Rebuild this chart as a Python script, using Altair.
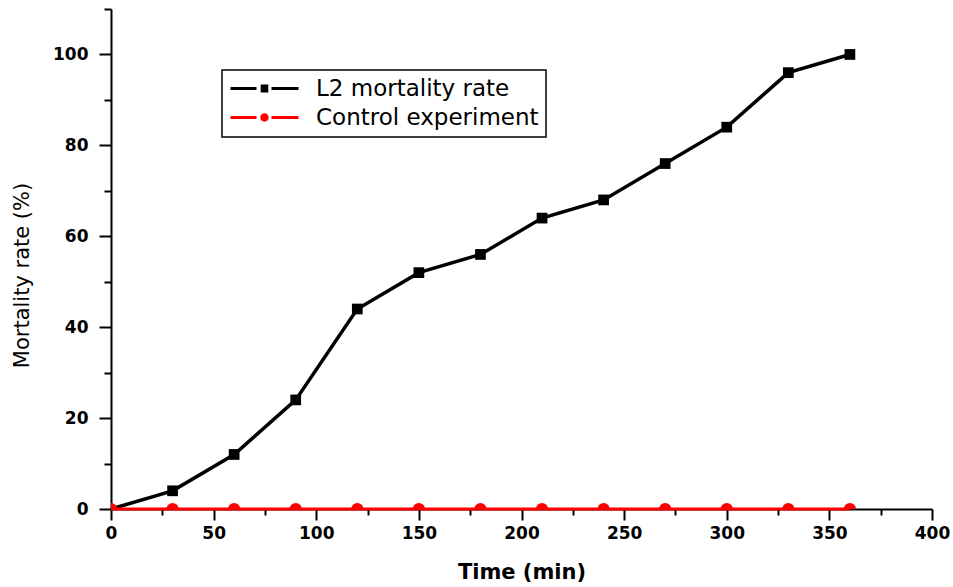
import altair as alt
import pandas as pd

times = [0, 30, 60, 90, 120, 150, 180, 210, 240, 270, 300, 330, 360]
l2_rate = [0, 4, 12, 24, 44, 52, 56, 64, 68, 76, 84, 96, 100]
control_rate = [0, 0, 0, 0, 0, 0, 0, 0, 0, 0, 0, 0, 0]
series_names = ["L2 mortality rate", "Control experiment"]
series_colors = ["#000000", "#ff0000"]
x_major = [0, 50, 100, 150, 200, 250, 300, 350, 400]
x_minor = [25, 75, 125, 175, 225, 275, 325, 375]
y_major = [0, 20, 40, 60, 80, 100]
y_minor = [10, 30, 50, 70, 90, 110]

rows = []
for t, v in zip(times, l2_rate):
    rows.append({"time": t, "rate": v, "series": series_names[0]})
for t, v in zip(times, control_rate):
    rows.append({"time": t, "rate": v, "series": series_names[1]})
df = pd.DataFrame(rows)

FONT = "DejaVu Sans"
xscale = alt.Scale(domain=[0, 400], nice=False, zero=False)
yscale = alt.Scale(domain=[0, 110], nice=False, zero=False)

x_axis = alt.Axis(values=x_major, tickSize=11, tickWidth=2, tickColor="black",
                  domainColor="black", domainWidth=2, grid=False,
                  labelFont=FONT, labelFontWeight="bold", labelFontSize=17,
                  labelColor="black", labelPadding=5, labelFlush=False,
                  title="Time (min)", titleFont=FONT, titleFontWeight="bold",
                  titleFontSize=21, titleColor="black", titleY=63,
                  titleBaseline="middle")
y_axis = alt.Axis(values=y_major, tickSize=12, tickWidth=2, tickColor="black",
                  domainColor="black", domainWidth=2, grid=False,
                  labelFont=FONT, labelFontWeight="bold", labelFontSize=17,
                  labelColor="black", labelPadding=11, labelFlush=False,
                  title="Mortality rate (%)", titleFont=FONT,
                  titleFontWeight="normal", titleFontSize=21, titleColor="black",
                  titleX=-89, titleY=266, titleAngle=-90, titleAlign="center",
                  titleBaseline="middle")
x_minor_axis = alt.Axis(values=x_minor, tickSize=6, tickWidth=2, tickColor="black",
                        domain=False, labels=False, grid=False, title=None,
                        orient="bottom")
y_minor_axis = alt.Axis(values=y_minor, tickSize=7, tickWidth=2, tickColor="black",
                        domain=False, labels=False, grid=False, title=None,
                        orient="left")

base = alt.Chart(df)
l2 = alt.datum.series == series_names[0]
ctrl = alt.datum.series == series_names[1]

black_line = base.transform_filter(l2).mark_line(
    color="black", strokeWidth=3.5).encode(
    x=alt.X("time:Q", scale=xscale, axis=x_axis),
    y=alt.Y("rate:Q", scale=yscale, axis=y_axis),
)
black_pts = base.transform_filter(l2).transform_filter(alt.datum.time > 0).mark_point(
    shape="square", filled=True, color="black", size=115, opacity=1, clip=True).encode(
    x=alt.X("time:Q", scale=xscale, axis=None),
    y=alt.Y("rate:Q", scale=yscale, axis=None),
)
red_line = base.transform_filter(ctrl).mark_line(
    color="#ff0000", strokeWidth=3).encode(
    x=alt.X("time:Q", scale=xscale, axis=None),
    y=alt.Y("rate:Q", scale=yscale, axis=None),
)
red_pts = base.transform_filter(ctrl).mark_point(
    shape="circle", filled=True, color="#ff0000", size=150, opacity=1, clip=True).encode(
    x=alt.X("time:Q", scale=xscale, axis=None),
    y=alt.Y("rate:Q", scale=yscale, axis=None),
)

# legend symbols: dash - marker - dash (unit = 10 px, symbol column 20 px)
sq_path = ("M-1,-0.15H1.6V0.15H-1Z "
           "M2.02,-0.4H2.78V0.4H2.02Z "
           "M3.1,-0.15H5.8V0.15H3.1Z")
ci_path = ("M-1,-0.15H1.6V0.15H-1Z "
           "M2.82,0A0.42,0.42 0 1,1 1.98,0A0.42,0.42 0 1,1 2.82,0Z "
           "M3.1,-0.15H5.8V0.15H3.1Z")

legend_layer = base.transform_filter("false").mark_point(filled=True, opacity=1).encode(
    x=alt.X("time:Q", scale=xscale, axis=x_minor_axis),
    y=alt.Y("rate:Q", scale=yscale, axis=y_minor_axis),
    color=alt.Color("series:N", scale=alt.Scale(domain=series_names, range=series_colors),
                    legend=alt.Legend(title=None)),
    shape=alt.Shape("series:N", scale=alt.Scale(domain=series_names, range=[sq_path, ci_path]),
                    legend=alt.Legend(title=None)),
)

chart = alt.layer(black_line, black_pts, red_line, red_pts, legend_layer).resolve_axis(
    x="independent", y="independent"
).properties(
    width=821, height=500,
    padding={"left": 111, "top": 9, "right": 21, "bottom": 78},
    autosize="none", background="white",
).configure_view(stroke=None).configure_legend(
    orient="none", legendX=111, legendY=61,
    strokeColor="black", strokeWidth=1.5, padding=7, fillColor="white",
    symbolSize=400, symbolStrokeWidth=0, symbolOpacity=1,
    labelFont=FONT, labelFontSize=23, labelColor="black", labelOffset=64,
    rowPadding=5, labelLimit=400,
)

chart.save("out.html", embed_options={"renderer": "svg", "actions": False})
